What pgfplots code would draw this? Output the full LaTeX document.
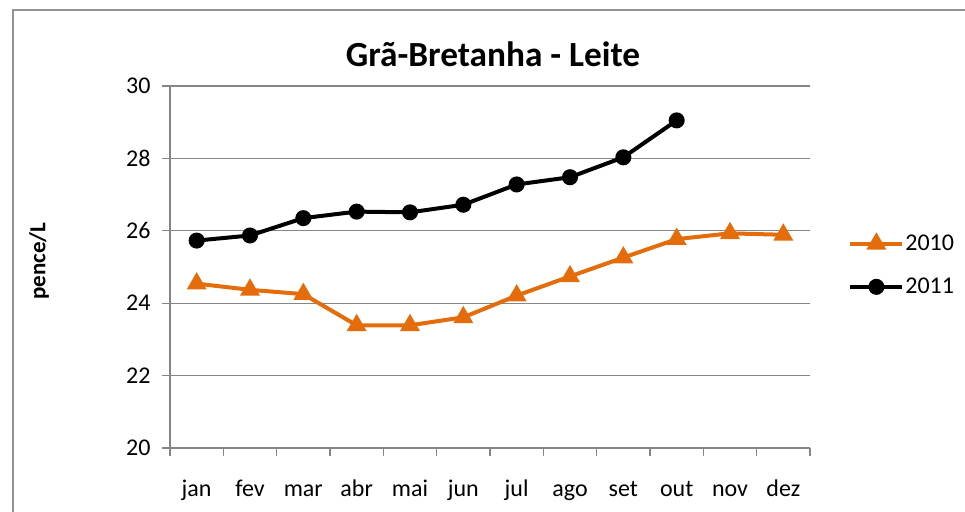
\documentclass[border=0pt]{standalone}
\usepackage{pgfplots}
\pgfplotsset{compat=1.18}
\usepackage{fontspec}
\setmainfont{Carlito}
\definecolor{xlorange}{HTML}{E46C0A}
\definecolor{gridgray}{HTML}{868686}
\begin{document}
\begin{tikzpicture}
\useasboundingbox (0bp,0bp) rectangle (965bp,-512bp);
\draw[color=gridgray!90, line width=2bp] (13bp,-513bp) -- (13bp,-10bp) -- (966bp,-10bp);
\node[font=\fontsize{35.3bp}{40bp}\selectfont\bfseries] at (493bp,-54bp) {Grã-Bretanha - Leite};
\node[rotate=90, font=\fontsize{23bp}{26bp}\selectfont\bfseries] at (39bp,-261bp) {pence/L};
\begin{axis}[
  at={(170bp,-448bp)}, anchor=south west,
  scale only axis, width=640bp, height=362bp,
  xmin=0.5, xmax=12.5, ymin=20, ymax=30,
  axis lines=left, axis line style={-, color=gridgray, line width=1.3bp},
  xtick={0.5,1.5,...,12.5},
  xticklabels={jan,fev,mar,abr,mai,jun,jul,ago,set,out,nov,dez},
  x tick label as interval,
  ytick={20,22,...,30},
  ymajorgrids, grid style={color=gridgray, line width=1.3bp},
  tick align=outside, major tick length=8bp,
  tick style={color=gridgray, line width=1.3bp},
  /pgf/number format/assume math mode=true,
  tick label style={font=\fontsize{24bp}{28bp}\selectfont, color=black},
  xticklabel style={anchor=base, yshift=-40bp},
  yticklabel style={xshift=-8bp},
  clip=false,
  legend style={draw=none, fill=none, at={(1.055,0.5047)}, anchor=west,
    font=\fontsize{24bp}{28bp}\selectfont, row sep=24bp,
    nodes={inner sep=1bp}},
  legend cell align=left,
  legend image code/.code={\draw[#1, mark repeat=2, mark phase=2] plot coordinates {(0bp,0bp) (26bp,0bp) (52bp,0bp)};},
]
\addplot[color=xlorange, line width=4bp, mark=triangle*, mark size=7.5bp, mark options={solid}] coordinates {
(1,24.54) (2,24.37) (3,24.25) (4,23.39) (5,23.39) (6,23.61) (7,24.21) (8,24.74) (9,25.26) (10,25.77) (11,25.93) (12,25.89)};
\addlegendentry{2010}
\addplot[color=black, line width=4bp, mark=*, mark size=6bp] coordinates {
(1,25.73) (2,25.87) (3,26.35) (4,26.53) (5,26.51) (6,26.72) (7,27.28) (8,27.48) (9,28.03) (10,29.05)};
\addlegendentry{2011}
\end{axis}
\end{tikzpicture}
\end{document}
